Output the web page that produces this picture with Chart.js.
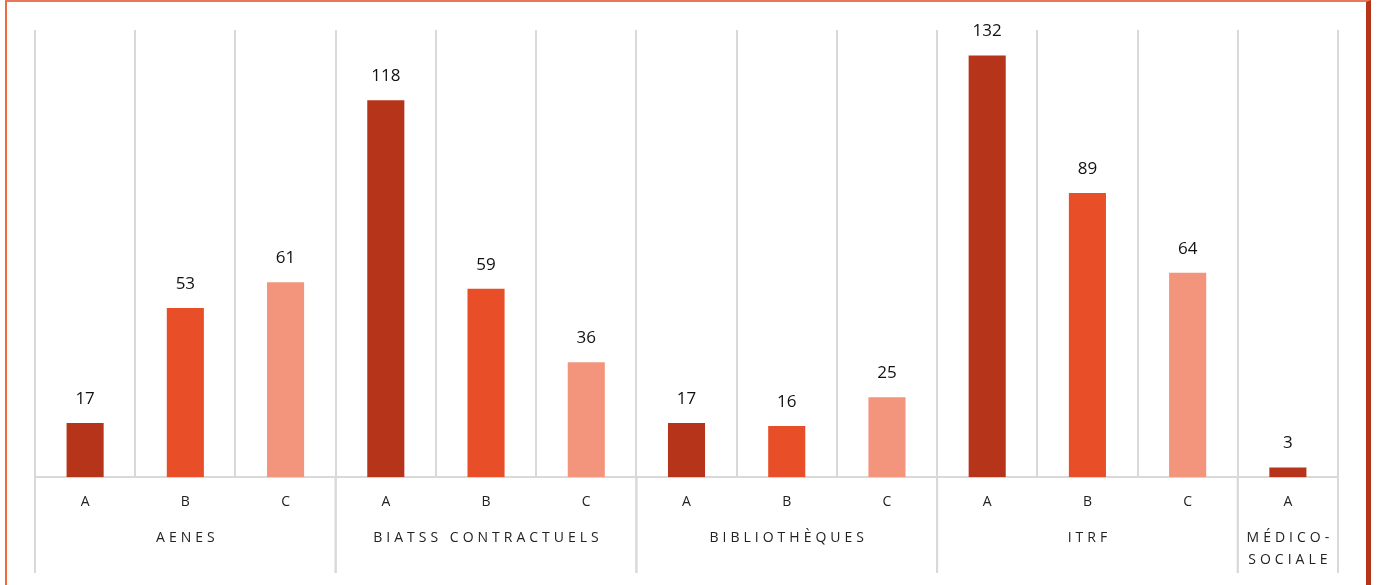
<!DOCTYPE html>
<html>
<head>
<meta charset="utf-8">
<script src="https://cdn.jsdelivr.net/npm/chart.js@4"></script>
<style>
  body { margin: 0; background: #fff; }
  #wrap { position: relative; width: 1378px; height: 585px; }
  #frame {
    position: absolute; left: 5px; top: 0; width: 1366px; height: 585px;
    border-left: 2px solid #ef6a3c; border-top: 2px solid #e8785a;
    border-right: 5px solid #b5341a; pointer-events: none; box-sizing: border-box;
  }
</style>
</head>
<body>
<div id="wrap">
  <canvas id="myChart" width="1378" height="585"></canvas>
  <div id="frame"></div>
</div>
<script>
const myChart = document.getElementById("myChart");

const grades = ["A", "B", "C", "A", "B", "C", "A", "B", "C", "A", "B", "C", "A"];
const values = [17, 53, 61, 118, 59, 36, 17, 16, 25, 132, 89, 64, 3];
const groups = ["AENES", "BIATSS CONTRACTUELS", "BIBLIOTHÈQUES", "ITRF", ["MÉDICO-", "SOCIALE"]];
const groupSizes = [3, 3, 3, 3, 1];
const gradeColors = { A: "#b5341a", B: "#e84e27", C: "#f2957c" };

const labelFont = "'Open Sans', sans-serif";

// values above bars, group names and the long separators under the axis
const extras = {
  id: "extras",
  afterDraw(chart) {
    const ctx = chart.ctx;
    const x = chart.scales.x;
    const area = chart.chartArea;
    const half = (x.getPixelForValue(1) - x.getPixelForValue(0)) / 2;

    ctx.save();
    ctx.fillStyle = "#111";
    ctx.font = "17px " + labelFont;
    ctx.textAlign = "center";
    ctx.textBaseline = "middle";
    chart.getDatasetMeta(0).data.forEach((bar, i) => {
      ctx.fillText(values[i], bar.x, bar.y - 24);
    });

    ctx.strokeStyle = "#d9d9d9";
    ctx.lineWidth = 2;
    ctx.fillStyle = "#222";
    ctx.font = "14px " + labelFont;
    ctx.letterSpacing = "4px";
    let start = 0;
    groupSizes.forEach((n, g) => {
      const left = x.getPixelForValue(start) - half;
      const right = x.getPixelForValue(start + n - 1) + half;
      [left, right].forEach(px => {
        ctx.beginPath();
        ctx.moveTo(px, area.bottom);
        ctx.lineTo(px, 573);
        ctx.stroke();
      });
      const cx = (left + right) / 2 + 2;
      const lines = [].concat(groups[g]);
      lines.forEach((t, k) => {
        ctx.fillText(t, cx, 538 + k * 22);
      });
      start += n;
    });
    ctx.restore();
  }
};

new Chart(myChart, {
  type: "bar",
  data: {
    labels: grades,
    datasets: [
      {
        data: values,
        backgroundColor: grades.map(g => gradeColors[g]),
        barPercentage: 0.37,
        categoryPercentage: 1,
      },
    ],
  },
  options: {
    responsive: false,
    animation: false,
    layout: { padding: { left: 35, right: 40, top: 30, bottom: 59 } },
    plugins: { legend: { display: false }, tooltip: { enabled: false } },
    scales: {
      y: { display: false, min: 0, max: 140 },
      x: {
        grid: { offset: true, color: "#d9d9d9", lineWidth: 2, drawTicks: false },
        border: { color: "#d9d9d9", width: 2 },
        ticks: { color: "#222", padding: 16, font: { size: 14, family: labelFont } },
      },
    },
  },
  plugins: [extras],
});
</script>
</body>
</html>
